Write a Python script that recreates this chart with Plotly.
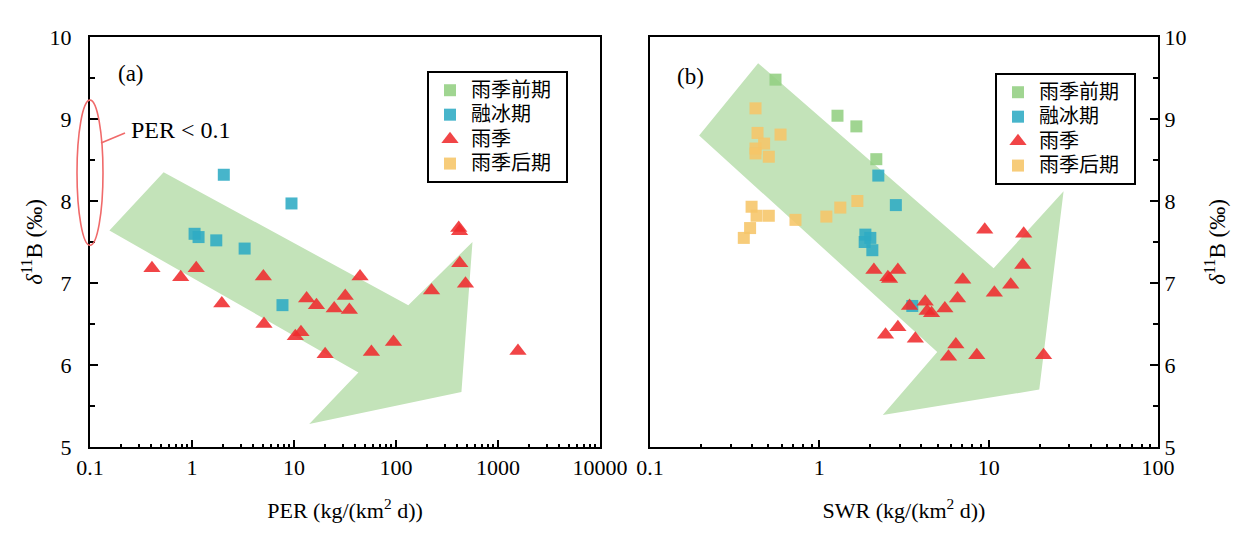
import plotly.graph_objects as go

# ---------------- data: panel (a) PER ----------------
a_melt_per = [2.05, 9.45, 1.06, 1.16, 1.73, 3.28, 7.71]
a_melt_d11b = [8.32, 7.97, 7.60, 7.56, 7.52, 7.42, 6.73]
a_rain_per = [0.405, 0.775, 1.10, 1.96, 5.01, 5.08, 13.3, 16.6, 24.8, 31.8, 34.9, 44.4,
              11.7, 10.3, 20.2, 57.4, 94.5, 223, 412, 420, 422, 480, 1570]
a_rain_d11b = [7.18, 7.07, 7.18, 6.75, 7.08, 6.50, 6.81, 6.73, 6.69, 6.84, 6.67, 7.08,
               6.40, 6.35, 6.13, 6.16, 6.28, 6.91, 7.67, 7.63, 7.24, 6.99, 6.17]
a_arrow_x = [0.155, 0.527, 132, 562, 438, 14.1, 42.8]
a_arrow_y = [7.64, 8.35, 6.73, 7.50, 5.67, 5.28, 5.91]

# ---------------- data: panel (b) SWR ----------------
b_pre_swr = [0.551, 1.28, 1.655, 2.17]
b_pre_d11b = [9.48, 9.04, 8.91, 8.51]
b_melt_swr = [2.23, 2.83, 1.87, 2.00, 1.853, 2.056, 3.54]
b_melt_d11b = [8.31, 7.95, 7.59, 7.55, 7.50, 7.40, 6.72]
b_rain_swr = [9.48, 16.1, 15.9, 2.10, 2.91, 2.54, 2.60, 7.03, 10.8, 13.5, 6.55, 4.22,
              3.41, 5.51, 4.33, 4.60, 2.91, 2.46, 3.69, 6.40, 5.79, 8.51, 21.1]
b_rain_d11b = [7.65, 7.60, 7.22, 7.16, 7.16, 7.07, 7.05, 7.04, 6.88, 6.98, 6.81, 6.77,
               6.72, 6.69, 6.66, 6.63, 6.46, 6.37, 6.32, 6.25, 6.10, 6.12, 6.12]
b_post_swr = [0.420, 0.4315, 0.590, 0.472, 0.420, 0.420, 0.503, 0.398, 0.426, 0.503,
              0.390, 0.358, 0.723, 1.10, 1.33, 1.677]
b_post_d11b = [9.13, 8.83, 8.81, 8.70, 8.64, 8.58, 8.54, 7.93, 7.82, 7.82,
               7.67, 7.55, 7.77, 7.81, 7.92, 8.00]
b_arrow_x = [0.195, 0.435, 10.7, 27.7, 19.9, 2.37, 4.97]
b_arrow_y = [8.80, 9.68, 7.18, 8.12, 5.70, 5.39, 6.16]

names = ["雨季前期", "融冰期", "雨季", "雨季后期"]
ytick_vals = [5, 6, 7, 8, 9, 10]
x1_ticks = [0.1, 1, 10, 100, 1000, 10000]
x1_text = ["0.1", "1", "10", "100", "1000", "10000"]
x2_ticks = [0.1, 1, 10, 100]
x2_text = ["0.1", "1", "10", "100"]

GREEN = "#93cf82"
BLUE = "#2eabc4"
RED = "#ef2b2d"
ORANGE = "#f6c568"
ARROW = "#c3e3b9"
OP = 0.88
SERIF = "Liberation Serif"
CJK = "Noto Sans CJK SC"


def lname(s):
    # larger glyphs inside a legend whose row spacing follows a smaller base font
    return "<span style='font-size:20px'>" + s + "\u2002</span>"


fig = go.Figure()

# arrows
fig.add_trace(go.Scatter(x=a_arrow_x, y=a_arrow_y, fill="toself", fillcolor=ARROW,
                         mode="lines", line=dict(width=0), showlegend=False,
                         hoverinfo="skip", xaxis="x", yaxis="y"))
fig.add_trace(go.Scatter(x=b_arrow_x, y=b_arrow_y, fill="toself", fillcolor=ARROW,
                         mode="lines", line=dict(width=0), showlegend=False,
                         hoverinfo="skip", xaxis="x2", yaxis="y2"))

sq = dict(symbol="square", size=12)
tri = dict(symbol="triangle-up", size=15)

# panel (a) traces + legend
fig.add_trace(go.Scatter(x=[None], y=[None], mode="markers", name=lname(names[0]),
                         marker=dict(color=GREEN, opacity=OP, **sq),
                         xaxis="x", yaxis="y", legend="legend"))
fig.add_trace(go.Scatter(x=a_melt_per, y=a_melt_d11b, mode="markers", name=lname(names[1]),
                         marker=dict(color=BLUE, opacity=OP, **sq),
                         xaxis="x", yaxis="y", legend="legend"))
fig.add_trace(go.Scatter(x=a_rain_per, y=a_rain_d11b, mode="markers", name=lname(names[2]),
                         marker=dict(color=RED, opacity=OP, **tri),
                         xaxis="x", yaxis="y", legend="legend"))
fig.add_trace(go.Scatter(x=[None], y=[None], mode="markers", name=lname(names[3]),
                         marker=dict(color=ORANGE, opacity=OP, **sq),
                         xaxis="x", yaxis="y", legend="legend"))

# panel (b) traces
fig.add_trace(go.Scatter(x=b_pre_swr, y=b_pre_d11b, mode="markers", name=lname(names[0]),
                         marker=dict(color=GREEN, opacity=OP, **sq),
                         xaxis="x2", yaxis="y2", legend="legend2"))
fig.add_trace(go.Scatter(x=b_melt_swr, y=b_melt_d11b, mode="markers", name=lname(names[1]),
                         marker=dict(color=BLUE, opacity=OP, **sq),
                         xaxis="x2", yaxis="y2", legend="legend2"))
fig.add_trace(go.Scatter(x=b_rain_swr, y=b_rain_d11b, mode="markers", name=lname(names[2]),
                         marker=dict(color=RED, opacity=OP, **tri),
                         xaxis="x2", yaxis="y2", legend="legend2"))
fig.add_trace(go.Scatter(x=b_post_swr, y=b_post_d11b, mode="markers", name=lname(names[3]),
                         marker=dict(color=ORANGE, opacity=OP, **sq),
                         xaxis="x2", yaxis="y2", legend="legend2"))

# page body has an 8px margin, so the figure is offset by 8px
OFF = 8
L, R, T, B = 90 - OFF, 102 + OFF, 37 - OFF, 93 + OFF
W, H = 1260, 540
pw = W - L - R
d1 = (600 - 90) / pw
d2 = (650 - 90) / pw

axis_common = dict(showline=True, linecolor="black", linewidth=2, mirror=True,
                   showgrid=False, zeroline=False,
                   tickfont=dict(family=SERIF, size=22, color="black"))

xcommon = dict(type="log", ticks="inside", ticklen=7, tickwidth=2, tickcolor="black",
               minor=dict(ticks="inside", ticklen=3, tickwidth=1.5, tickcolor="black",
                          dtick="D1", showgrid=False),
               ticklabelstandoff=0,
               title_font=dict(family=SERIF, size=22, color="black"),
               title_standoff=23, **axis_common)
ycommon = dict(range=[5, 10], tickvals=ytick_vals, ticks="inside", ticklen=8, tickwidth=2,
               tickcolor="black",
               minor=dict(ticks="inside", ticklen=5, tickwidth=2, tickcolor="black",
                          dtick=0.5, showgrid=False),
               title_font=dict(family=SERIF, size=23, color="black"),
               **axis_common)

ytitle = "<i>δ</i><sup>11</sup>B (‰)"

legend_common = dict(xanchor="left", yanchor="top", bgcolor="white",
                     bordercolor="black", borderwidth=2,
                     font=dict(family=CJK, size=16.5, color="black"),
                     traceorder="normal", tracegroupgap=0, itemwidth=32)

fig.update_layout(
    width=W, height=H,
    margin=dict(l=L, r=R, t=T, b=B),
    paper_bgcolor="white", plot_bgcolor="white",
    xaxis=dict(domain=[0, d1], range=[-1, 4], anchor="y",
               tickvals=x1_ticks, ticktext=x1_text,
               title_text="PER (kg/(km<sup>2</sup> d))", **xcommon),
    yaxis=dict(domain=[0, 1], anchor="x", side="left", ticklabelstandoff=12,
               title_text=ytitle, title_standoff=1, **ycommon),
    xaxis2=dict(domain=[d2, 1], range=[-1, 2], anchor="y2",
                tickvals=x2_ticks, ticktext=x2_text,
                title_text="SWR (kg/(km<sup>2</sup> d))", **xcommon),
    yaxis2=dict(domain=[0, 1], anchor="x2", side="right",
                title_text=ytitle, title_standoff=23, **ycommon),
    legend=dict(x=(427 - 90) / pw, y=1 - (71 - 37) / 410, **legend_common),
    legend2=dict(x=(995 - 90) / pw, y=1 - (73 - 37) / 410, **legend_common),
    showlegend=True,
)

# ellipse marking PER < 0.1 and its label
fig.add_shape(type="circle", xref="paper", yref="paper", xsizemode="pixel", xanchor=0,
              x0=-13, x1=13, y0=(7.46 - 5) / 5, y1=(9.23 - 5) / 5,
              line=dict(color="#f06a6a", width=1.6), fillcolor="rgba(0,0,0,0)")
fig.add_shape(type="line", xref="paper", yref="paper", xsizemode="pixel", xanchor=0,
              x0=11, x1=35, y0=(8.707 - 5) / 5, y1=(8.829 - 5) / 5,
              line=dict(color="#f06a6a", width=1.6))

fig.add_annotation(text="PER < 0.1", xref="paper", yref="y", x=(129 - 90) / pw, y=8.866,
                   xanchor="left", yanchor="middle", showarrow=False,
                   font=dict(family=SERIF, size=24, color="black"))
fig.add_annotation(text="(a)", xref="x domain", yref="y domain", x=(115.7 - 90) / 510,
                   y=1 - (73.3 - 37) / 410, xanchor="left", yanchor="middle",
                   showarrow=False, font=dict(family=SERIF, size=23, color="black"))
fig.add_annotation(text="(b)", xref="x2 domain", yref="y2 domain", x=(675 - 650) / 508,
                   y=1 - (76.7 - 37) / 410, xanchor="left", yanchor="middle",
                   showarrow=False, font=dict(family=SERIF, size=23, color="black"))

fig.write_html("out.html")
